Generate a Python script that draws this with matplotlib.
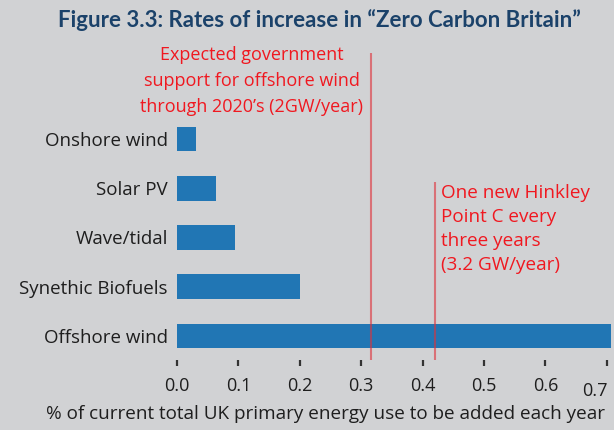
import matplotlib
matplotlib.use("Agg")
import matplotlib.pyplot as plt
import matplotlib.transforms as mtransforms

# technologies, bottom to top
sources = ["Offshore wind", "Synethic Biofuels", "Wave/tidal", "Solar PV", "Onshore wind"]
rates = [0.707, 0.200, 0.094, 0.063, 0.031]

# reference levels (% per year)
govt_offshore = 0.3155
hinkley = 0.4207

xticks = [0.0, 0.1, 0.2, 0.3, 0.4, 0.5, 0.6, 0.7]
xticklabels = ["0.0", "0.1", "0.2", "0.3", "0.4", "0.5", "0.6", "0.7"]

bg = "#d1d2d4"
red = "#f01820"
body_font = ["Open Sans", "DejaVu Sans"]

fig = plt.figure(figsize=(6.14, 4.30), dpi=100, facecolor=bg)
ax = fig.add_axes([177 / 614, 70 / 430, 436 / 614, 309.5 / 430])
ax.set_facecolor(bg)

ax.barh(range(len(sources)), rates, height=0.5, color="#2176b4", zorder=2)

ax.set_xlim(0, 0.71)
ax.set_ylim(-0.49, 5.8)

# vertical reference lines
ax.vlines(govt_offshore, -0.49, 5.75, color="#e0303a", alpha=0.6, lw=1.5, zorder=3)
ax.vlines(hinkley, -0.49, 3.13, color="#e0303a", alpha=0.6, lw=1.5, zorder=3)

for s in ax.spines.values():
    s.set_visible(False)

ax.set_yticks(range(len(sources)))
ax.set_yticklabels(sources, fontsize=13.5, family=body_font, color="#1e1e1e")
ax.tick_params(axis="y", length=0, pad=6.5)

ax.set_xticks(xticks)
ax.set_xticklabels(xticklabels, fontsize=13, family=body_font, color="#1e1e1e")
ax.tick_params(axis="x", length=4, width=1.6, color="#333333", pad=8, direction="out")
# last label sits a little left and lower
last = ax.get_xticklabels()[-1]
last.set_transform(last.get_transform() + mtransforms.ScaledTranslation(-12 / 100, -5 / 100, fig.dpi_scale_trans))

fig.text(325 / 614, 1 - 414 / 430, "% of current total UK primary energy use to be added each year",
         ha="center", va="center", fontsize=13.6, family=body_font, color="#1e1e1e")

fig.text(319 / 614, 1 - 20 / 430, "Figure 3.3: Rates of increase in \u201cZero Carbon Britain\u201d",
         ha="center", va="center", fontsize=16, fontweight="bold",
         family=["Lato", "DejaVu Sans"], color="#1b426a")

fig.text(252 / 614, 1 - 81 / 430,
         "Expected government\nsupport for offshore wind\nthrough 2020\u2019s (2GW/year)",
         ha="center", va="center", multialignment="center", fontsize=13,
         family=body_font, color=red, linespacing=1.6)

fig.text(441 / 614, 1 - 229 / 430,
         "One new Hinkley\nPoint C every\nthree years\n(3.2 GW/year)",
         ha="left", va="center", multialignment="left", fontsize=13.6,
         family=body_font, color=red, linespacing=1.45)

fig.savefig("out.png", dpi=100, facecolor=bg)
